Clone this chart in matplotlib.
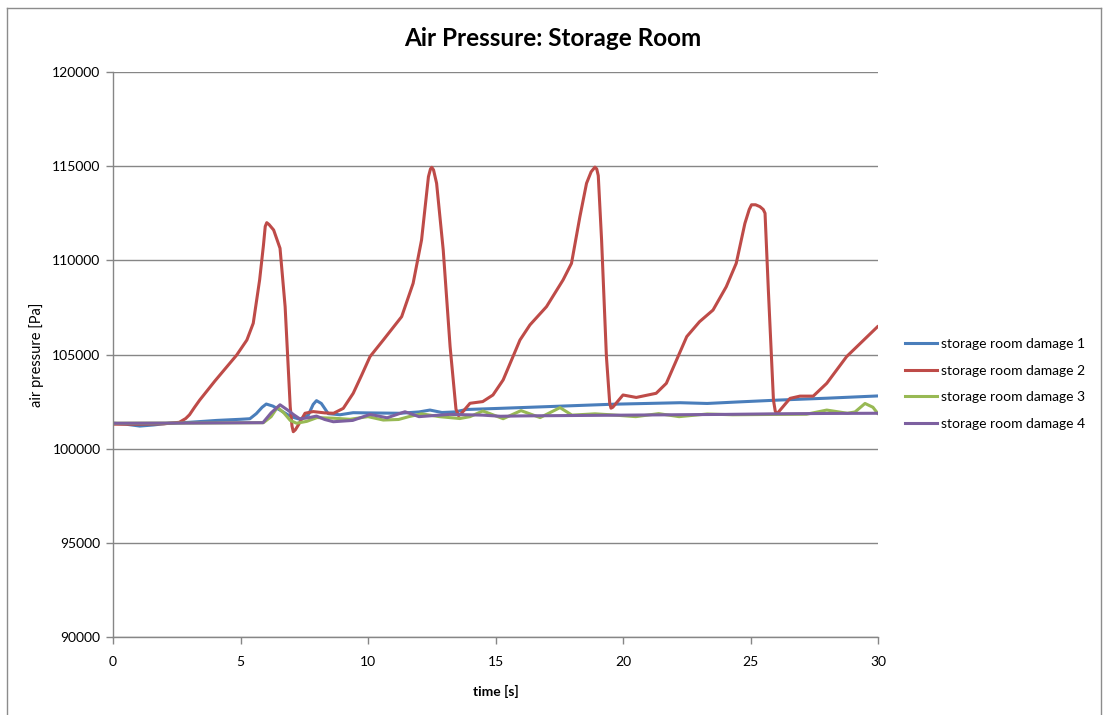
import matplotlib
matplotlib.use("Agg")
import matplotlib.pyplot as plt
from matplotlib.lines import Line2D

# Storage room air pressure for four damage cases
t_damage1 = [0, 0.5, 1.05, 1.6, 2.1, 3.0, 4.07, 5.0, 5.37, 5.62, 5.85, 6.01, 6.27,
             6.55, 6.87, 7.1, 7.33, 7.66, 7.85, 7.98, 8.17, 8.44, 8.9, 9.42, 9.94,
             11.24, 12.0, 12.43, 12.9, 13.4, 13.86, 15.16, 17.0, 19.6, 22.24, 23.3,
             24.5, 26.1, 28.0, 30.0]
p_damage1 = [101350, 101300, 101200, 101260, 101340, 101400, 101500, 101560, 101590,
             101860, 102200, 102370, 102260, 102050, 101790, 101650, 101560, 101790,
             102350, 102550, 102400, 101860, 101800, 101910, 101900, 101880, 101950,
             102050, 101920, 101950, 102080, 102140, 102230, 102360, 102440, 102400,
             102480, 102580, 102680, 102800]

t_damage2 = [0, 1, 2, 2.6, 2.85, 3.0, 3.2, 3.4, 4.0, 4.85, 5.25, 5.5, 5.75, 5.9,
             5.97, 6.03, 6.12, 6.3, 6.55, 6.75, 6.95, 7.02, 7.07, 7.15, 7.27, 7.53,
             7.85, 8.3, 8.65, 9.03, 9.42, 9.75, 10.08, 10.6, 11.32, 11.77, 12.1,
             12.37, 12.45, 12.5, 12.57, 12.69, 12.95, 13.22, 13.45, 13.55, 13.65,
             14.0, 14.5, 14.9, 15.3, 15.96, 16.35, 17.0, 17.65, 17.98, 18.31, 18.57,
             18.75, 18.9, 18.97, 19.03, 19.16, 19.35, 19.48, 19.53, 19.6, 20.0,
             20.52, 21.3, 21.7, 22.1, 22.5, 23.0, 23.53, 24.05, 24.44, 24.78, 24.95,
             25.04, 25.2, 25.37, 25.5, 25.57, 25.7, 25.9, 25.97, 26.02, 26.1, 26.55,
             26.94, 27.46, 27.99, 28.77, 30.0]
p_damage2 = [101300, 101300, 101320, 101400, 101600, 101800, 102200, 102580, 103600,
             104970, 105770, 106660, 108960, 110800, 111800, 112000, 111900, 111610,
             110640, 107540, 102230, 101200, 100900, 101000, 101260, 101880, 101970,
             101900, 101880, 102140, 102940, 103900, 104890, 105770, 107010, 108780,
             111080, 114440, 114850, 114940, 114800, 114090, 110550, 105410, 102100,
             101750, 101850, 102410, 102500, 102850, 103650, 105770, 106570, 107540,
             108960, 109840, 112320, 114090, 114700, 114950, 114850, 114500, 111080,
             104880, 102400, 102150, 102200, 102850, 102720, 102940, 103470, 104710,
             105950, 106740, 107360, 108600, 109840, 111960, 112700, 112950, 112950,
             112850, 112700, 112500, 108420, 102580, 102000, 101850, 101950, 102670,
             102790, 102790, 103470, 104890, 106500]

t_damage3 = [0, 3, 5.9, 6.2, 6.45, 6.7, 6.95, 7.2, 7.6, 8.0, 8.6, 9.3, 10.0, 10.6,
             11.2, 11.6, 12.1, 12.8, 13.6, 14.0, 14.5, 14.8, 15.3, 16.0, 16.75,
             17.53, 18.0, 18.9, 19.5, 20.5, 21.4, 22.2, 23.3, 24.3, 26.1, 27.2,
             27.99, 28.8, 29.1, 29.49, 29.8, 30.0]
p_damage3 = [101350, 101360, 101380, 101700, 102200, 101900, 101500, 101350, 101450,
             101650, 101620, 101560, 101700, 101520, 101550, 101700, 101850, 101700,
             101600, 101700, 102000, 101850, 101590, 102020, 101650, 102180, 101780,
             101850, 101800, 101700, 101860, 101700, 101840, 101800, 101820, 101830,
             102050, 101880, 101950, 102400, 102200, 101850]

t_damage4 = [0, 3, 5.88, 6.2, 6.55, 6.85, 7.1, 7.33, 7.7, 7.98, 8.3, 8.64, 9.4,
             10.08, 10.75, 11.45, 12.0, 13.2, 14.5, 15.2, 16, 18, 20, 22, 24, 26,
             28, 30]
p_damage4 = [101350, 101360, 101380, 101900, 102330, 102050, 101790, 101580, 101650,
             101730, 101550, 101430, 101500, 101820, 101640, 101960, 101700, 101820,
             101780, 101720, 101740, 101760, 101780, 101800, 101820, 101850, 101870,
             101880]

series_labels = ["storage room damage 1", "storage room damage 2",
                 "storage room damage 3", "storage room damage 4"]
series_colors = ["#4A7EBB", "#BE4B48", "#98B954", "#7D60A0"]

x_ticks = [0, 5, 10, 15, 20, 25, 30]
y_ticks = [90000, 95000, 100000, 105000, 110000, 115000, 120000]

plt.rcParams["font.family"] = ["Lato", "DejaVu Sans"]

W, H = 1103, 715
fig = plt.figure(figsize=(W / 100, H / 100), dpi=100)
ax = fig.add_axes([113 / W, 1 - 637 / H, (878 - 113) / W, (637 - 72) / H])

series = [(t_damage1, p_damage1), (t_damage2, p_damage2),
          (t_damage3, p_damage3), (t_damage4, p_damage4)]
for (t, p), lab, col in zip(series, series_labels, series_colors):
    ax.plot(t, p, color=col, lw=2.2, label=lab, solid_joinstyle="round",
            solid_capstyle="round")

ax.set_xlim(0, 30)
ax.set_ylim(90000, 120000)
ax.set_xticks(x_ticks)
ax.set_yticks(y_ticks)
ax.set_xticklabels([str(v) for v in x_ticks])
ax.set_yticklabels([str(v) for v in y_ticks])
ax.tick_params(axis="both", labelsize=10, colors="#868686", labelcolor="black",
               length=5, width=1, direction="out")
ax.tick_params(axis="x", pad=9)
ax.tick_params(axis="y", pad=4)

ax.yaxis.grid(True, color="#868686", lw=1.0)
ax.set_axisbelow(True)
for side in ("top", "right"):
    ax.spines[side].set_visible(False)
for side in ("left", "bottom"):
    ax.spines[side].set_color("#868686")
    ax.spines[side].set_linewidth(1.0)

ax.set_xlabel("time [s]", fontsize=10, fontweight="bold", labelpad=12)
ax.set_ylabel("air pressure [Pa]", fontsize=10.5, labelpad=6)

fig.text(553 / W, 1 - 38 / H, "Air Pressure: Storage Room", ha="center",
         va="center", fontsize=17.5, fontweight="bold")

handles = [Line2D([0], [0], color=c, lw=2.2) for c in series_colors]
fig.legend(handles, series_labels, loc="upper left",
           bbox_to_anchor=(905 / W, 1 - 338 / H), frameon=False, fontsize=10,
           handlelength=2.3, handletextpad=0.3, labelspacing=1.05,
           borderaxespad=0, borderpad=0)

# chart area border
border = dict(color="#8c8c8c", lw=1.0, transform=fig.transFigure)
fig.add_artist(Line2D([7 / W, 7 / W], [0, 1 - 8 / H], **border))
fig.add_artist(Line2D([7 / W, 1101 / W], [1 - 8 / H, 1 - 8 / H], **border))
fig.add_artist(Line2D([1101 / W, 1101 / W], [0, 1 - 8 / H], **border))

fig.savefig("out.png", dpi=100, facecolor="white")
